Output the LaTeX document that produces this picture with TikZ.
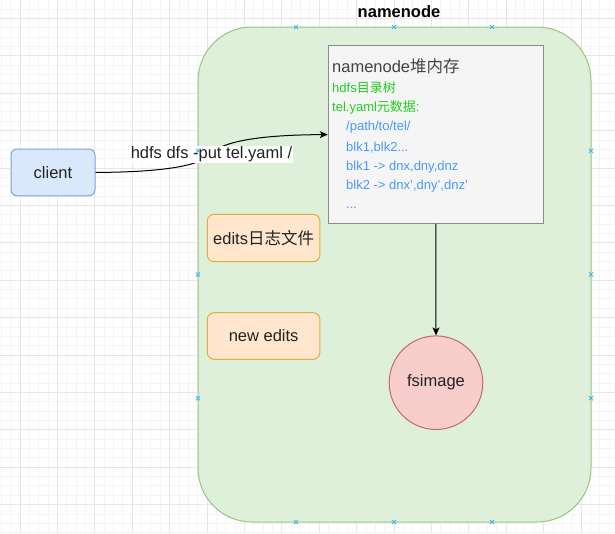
\documentclass[tikz,border=0pt]{standalone}
\usepackage{fontspec}
\setmainfont{Liberation Sans}
\newfontfamily\cjk{Noto Sans CJK SC}
\usetikzlibrary{arrows.meta}
\definecolor{gridminor}{HTML}{F4F4F4}
\definecolor{gridmajor}{HTML}{E6E6E6}
\definecolor{nnfill}{HTML}{DEF0D9}
\definecolor{nnline}{HTML}{97C47E}
\definecolor{clfill}{HTML}{DAE8FC}
\definecolor{clline}{HTML}{7EA3D6}
\definecolor{orfill}{HTML}{FFE6CC}
\definecolor{orline}{HTML}{E0AE3A}
\definecolor{rdfill}{HTML}{F8CECC}
\definecolor{rdline}{HTML}{C26A66}
\definecolor{hpfill}{HTML}{F5F5F5}
\definecolor{hpline}{HTML}{8C8C8C}
\definecolor{txt}{HTML}{222222}
\definecolor{hgreen}{HTML}{22CC22}
\definecolor{hblue}{HTML}{4599FF}
\definecolor{hmarkc}{HTML}{3DB5EE}
\newcommand\fsbig{\fontsize{16.5pt}{19pt}\selectfont}
\newcommand\fssmall{\fontsize{13pt}{16pt}\selectfont}
\begin{document}
\begin{tikzpicture}[x=1pt,y=-1pt,
  container/.style={draw=nnline, fill=nnfill, line width=1pt, rounded corners=54pt, inner sep=0pt},
  heapbox/.style={draw=hpline, fill=hpfill, line width=1pt, inner sep=0pt},
  clientbox/.style={draw=clline, fill=clfill, line width=1pt, rounded corners=6pt, inner sep=0pt, text=txt, font=\fsbig},
  editbox/.style={draw=orline, fill=orfill, line width=1pt, rounded corners=7pt, inner sep=0pt, text=txt, font=\fsbig},
  circbox/.style={circle, draw=rdline, fill=rdfill, line width=1pt, inner sep=0pt, text=txt, font=\fsbig},
  htext/.style={anchor=base west, inner sep=0pt},
  conn/.style={draw=black, line width=1pt, -{Stealth[length=8pt,width=7pt,inset=2pt]}},
  hmark/.style={draw=hmarkc, line width=0.9pt}
]
\useasboundingbox (0,0) rectangle (615,533);
\fill[white] (0,0) rectangle (615,533);
% grid
\foreach \i in {0,...,66} {
  \draw[gridminor, line width=0.7pt] (1.2+\i*9.35,0) -- (1.2+\i*9.35,533);
}
\foreach \i in {0,...,57} {
  \draw[gridminor, line width=0.7pt] (0,8.95+\i*9.35) -- (615,8.95+\i*9.35);
}
\foreach \i in {0,...,16} {
  \draw[gridmajor, line width=0.8pt] (19.9+\i*37.4,0) -- (19.9+\i*37.4,533);
}
\foreach \i in {0,...,14} {
  \draw[gridmajor, line width=0.8pt] (0,18.3+\i*37.4) -- (615,18.3+\i*37.4);
}
% container
\node[container, minimum width=393pt, minimum height=495pt] (nn) at (394.5,274.5) {};
\node[font=\fsbig\bfseries, text=black, inner sep=0pt] (nntitle) at (399,12) {namenode};
% heap
\node[heapbox, minimum width=215pt, minimum height=177.3pt] (heap) at (435.8,134.6) {};
\node[htext, text=txt!85!white] (t1) at (332,72.3) {\fsbig namenode{\cjk 堆内存}};
\node[htext, text=hgreen] (t2) at (332,92.3) {\fssmall hdfs{\cjk 目录树}};
\node[htext, text=hgreen] (t3) at (332,111.7) {\fssmall tel.yaml{\cjk 元数据}:};
\node[htext, text=hblue] (t4) at (346,130.7) {\fssmall /path/to/tel/};
\node[htext, text=hblue] (t5) at (346,151) {\fssmall blk1,blk2...};
\node[htext, text=hblue] (t6) at (346,170) {\fssmall blk1 -> dnx,dny,dnz};
\node[htext, text=hblue] (t7) at (346,189.3) {\fssmall blk2 -> dnx',dny',dnz'};
\node[htext, text=hblue] (t8) at (346,208.3) {\fssmall ...};
% client
\node[clientbox, minimum width=84pt, minimum height=46.7pt] (client) at (53,172.4) {client};
% edits
\node[editbox, minimum width=112.7pt, minimum height=47.4pt] (edits) at (263.6,238) {edits{\cjk 日志文件}};
\node[editbox, minimum width=112.7pt, minimum height=46.6pt] (newedits) at (263.6,336) {new edits};
% fsimage
\node[circbox, minimum size=93.6pt] (fs) at (436,382.7) {fsimage};
% connectors
\draw[conn] (client.east) .. controls (160,172.3) and (198,166) .. (208,156)
  .. controls (216,147) and (236,135) .. (heap.west);
\node[fill=white, inner sep=1pt, text=txt, font=\fsbig] (lbl) at (211.5,154.5) {hdfs dfs -put tel.yaml /};
\draw[conn] (heap.south) -- (fs.north);
% connection point markers
\foreach \px/\py in {296/27,394/27,492/27,296/522,394/522,492/522,198/150.75,198/274.5,198/398.25,591/150.75,591/274.5,591/398.25} {
  \draw[hmark] (\px-2,\py-2) -- (\px+2,\py+2);
  \draw[hmark] (\px-2,\py+2) -- (\px+2,\py-2);
}
\end{tikzpicture}
\end{document}
